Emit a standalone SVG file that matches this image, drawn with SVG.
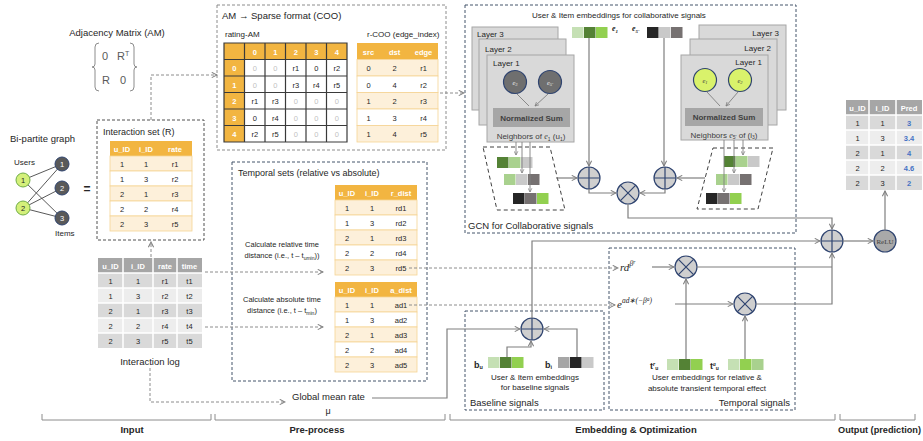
<svg xmlns="http://www.w3.org/2000/svg" width="923" height="441" viewBox="0 0 923 441">
<defs>
<style>
text{font-family:'Liberation Sans',Arial,sans-serif;fill:#262626}
.f10{font-size:9.5px}
.f9{font-size:9px}
.f8{font-size:8px}
.f7{font-size:7.5px}
.b{font-weight:bold}
.c{text-anchor:middle}
.r{text-anchor:end}
.w{fill:#fff}
.lg{fill:#bfbfbf}
.bl{fill:#4472c4;font-weight:bold}
.m{font-family:'Liberation Serif','Times New Roman',serif;font-style:italic}
.gbox{fill:none;stroke:#8c8c8c;stroke-width:1;stroke-dasharray:3,2}
.kbox{fill:none;stroke:#505050;stroke-width:1;stroke-dasharray:3,2}
.nbox{fill:none;stroke:#44546a;stroke-width:1;stroke-dasharray:3,2}
.dash{fill:none;stroke:#8c8c8c;stroke-width:1;stroke-dasharray:3,2}
.sol{fill:none;stroke:#7f7f7f;stroke-width:1.2}
.thin{fill:none;stroke:#7f7f7f;stroke-width:0.9}
.oh{fill:#f2b541}
.ob{fill:#fdf0da;stroke:#f6d495;stroke-width:.8}
.ow{fill:#fff;stroke:#f6d495;stroke-width:.8}
.gh{fill:#a6a6a6}
.g1{fill:#d9d9d9}
.g2{fill:#ededed}
.wl{stroke:#fff;stroke-width:1.5}
.layer{fill:#d9d9d9;stroke:#a6a6a6;stroke-width:1}
.ns{fill:#a6a6a6}
.op{fill:#cfcfcf;stroke:#2f4470;stroke-width:1.2}
.opl{stroke:#2f4470;stroke-width:1.2;fill:none}
.para{fill:none;stroke:#404040;stroke-width:1;stroke-dasharray:4,3}
.dg{fill:#548235}.lgr{fill:#a9d18e}.vlg{fill:#c5e0b4}.gr{fill:#92d050}.lgy{fill:#c9c9c9}.gy{fill:#767171}.bk{fill:#262626}.my{fill:#a6a6a6}
.amg{stroke:#3a3a3a;stroke-width:1.2;fill:none}
</style>
<marker id="a" viewBox="0 0 8 8" refX="7" refY="4" markerWidth="7" markerHeight="7" orient="auto" markerUnits="userSpaceOnUse"><path d="M1,1 L7,4 L1,7" fill="none" stroke="#7f7f7f" stroke-width="1.2"/></marker>
<marker id="s" viewBox="0 0 8 8" refX="7" refY="4" markerWidth="5" markerHeight="5" orient="auto" markerUnits="userSpaceOnUse"><path d="M1,1 L7,4 L1,7" fill="none" stroke="#7f7f7f" stroke-width="1.2"/></marker>
<g id="plus"><circle r="11" class="op"/><path d="M-11,0H11M0,-11V11" class="opl"/></g>
<g id="mul"><circle r="11" class="op"/><path d="M-7.8,-7.8L7.8,7.8M-7.8,7.8L7.8,-7.8" class="opl"/></g>
</defs>

<!-- Adjacency matrix -->
<g id="adjacency-matrix">
<text class="f10 c" x="117" y="35.5">Adjacency Matrix (AM)</text>
<path d="M99,43 Q95,43 95,47 L95,64 Q95,67 92,67 Q95,67 95,70 L95,87 Q95,91 99,91 M130,43 Q134,43 134,47 L134,64 Q134,67 137,67 Q134,67 134,70 L134,87 Q134,91 130,91" fill="none" stroke="#8c8c8c" stroke-width="1"/>
<text x="102" y="60" style="font-size:11px;fill:#595959">0</text>
<text x="117" y="60" style="font-size:11px;fill:#595959">R<tspan dy="-4" style="font-size:7px">T</tspan></text>
<text x="102" y="84" style="font-size:11px;fill:#595959">R</text>
<text x="120" y="84" style="font-size:11px;fill:#595959">0</text>
</g>

<!-- Bipartite graph -->
<g id="bipartite-graph">
<text class="f10" x="10" y="142">Bi-partite graph</text>
<text class="f8" x="14" y="165">Users</text>
<text class="f8" x="55" y="236">Items</text>
<path d="M23,180L62,164M23,180L62,218M23,208L62,164M23,208L62,188M23,208L62,218" stroke="#595959" stroke-width="1"/>
<circle cx="23" cy="180" r="7" fill="#d4f07a" stroke="#70ad47"/>
<circle cx="23" cy="208" r="7" fill="#d4f07a" stroke="#70ad47"/>
<text class="f7 c" x="23" y="182.8">1</text>
<text class="f7 c" x="23" y="210.8">2</text>
<circle cx="62" cy="164" r="7" fill="#595959" stroke="#2f4470"/>
<circle cx="62" cy="188" r="7" fill="#595959" stroke="#2f4470"/>
<circle cx="62" cy="218" r="7" fill="#595959" stroke="#2f4470"/>
<text class="f7 c w" x="62" y="166.8">1</text>
<text class="f7 c w" x="62" y="190.8">2</text>
<text class="f7 c w" x="62" y="220.8">3</text>
<text class="c b" x="87" y="193" style="font-size:12px">=</text>
</g>

<!-- Interaction set -->
<g id="interaction-set">
<rect x="97" y="120" width="107" height="120" class="kbox"/>
<text class="f9" x="103" y="134.5">Interaction set (R)</text>
<rect x="110" y="141" width="82" height="15" class="oh"/>
<rect x="110" y="156" width="82" height="15" class="ob"/>
<rect x="110" y="171" width="82" height="15" class="ow"/>
<rect x="110" y="186" width="82" height="15" class="ob"/>
<rect x="110" y="201" width="82" height="15" class="ow"/>
<rect x="110" y="216" width="82" height="15" class="ob"/>
<g class="f7 c">
<text class="w b" x="122" y="151.5">u_ID</text><text class="w b" x="146" y="151.5">i_ID</text><text class="w b" x="175" y="151.5">rate</text>
<text x="122" y="166.5">1</text><text x="146" y="166.5">1</text><text x="175" y="166.5">r1</text>
<text x="122" y="181.5">1</text><text x="146" y="181.5">3</text><text x="175" y="181.5">r2</text>
<text x="122" y="196.5">2</text><text x="146" y="196.5">1</text><text x="175" y="196.5">r3</text>
<text x="122" y="211.5">2</text><text x="146" y="211.5">2</text><text x="175" y="211.5">r4</text>
<text x="122" y="226.5">2</text><text x="146" y="226.5">3</text><text x="175" y="226.5">r5</text>
</g>
</g>

<!-- Interaction log -->
<g id="interaction-log">
<rect x="98" y="258" width="104" height="15" class="gh"/>
<rect x="98" y="273" width="104" height="15" class="g1"/>
<rect x="98" y="288" width="104" height="15" class="g2"/>
<rect x="98" y="303" width="104" height="15" class="g1"/>
<rect x="98" y="318" width="104" height="15" class="g2"/>
<rect x="98" y="333" width="104" height="15" class="g1"/>
<path d="M123,258V348M153,258V348M177,258V348M98,273H202M98,288H202M98,303H202M98,318H202M98,333H202" class="wl"/>
<g class="f7 c">
<text class="w b" x="110.5" y="268.5">u_ID</text><text class="w b" x="138" y="268.5">i_ID</text><text class="w b" x="165" y="268.5">rate</text><text class="w b" x="189.5" y="268.5">time</text>
<text x="110.5" y="283.5">1</text><text x="138" y="283.5">1</text><text x="165" y="283.5">r1</text><text x="189.5" y="283.5">t1</text>
<text x="110.5" y="298.5">1</text><text x="138" y="298.5">3</text><text x="165" y="298.5">r2</text><text x="189.5" y="298.5">t2</text>
<text x="110.5" y="313.5">2</text><text x="138" y="313.5">1</text><text x="165" y="313.5">r3</text><text x="189.5" y="313.5">t3</text>
<text x="110.5" y="328.5">2</text><text x="138" y="328.5">2</text><text x="165" y="328.5">r4</text><text x="189.5" y="328.5">t4</text>
<text x="110.5" y="343.5">2</text><text x="138" y="343.5">3</text><text x="165" y="343.5">r5</text><text x="189.5" y="343.5">t5</text>
</g>
<text class="f10 c" x="150" y="365">Interaction log</text>
</g>

<!-- AM to sparse -->
<g id="am-sparse">
<rect x="217" y="5" width="229" height="145" class="gbox"/>
<text class="f10" x="222" y="18.5">AM → Sparse format (COO)</text>
<text class="f8" x="225" y="37">rating-AM</text>
<text class="f8" x="367" y="37">r-COO (edge_index)</text>
<rect x="224" y="43" width="123" height="16.5" class="oh"/>
<rect x="224" y="43" width="20.5" height="99" class="oh"/>
<rect x="244.5" y="59.5" width="102.5" height="82.5" fill="#fff"/>
<path d="M224,43H347V142H224ZM224,59.5H347M224,76H347M224,92.5H347M224,109H347M224,125.5H347M244.5,43V142M265,43V142M285.5,43V142M306,43V142M326.5,43V142" class="amg"/>
<g class="f7 c">
<text class="w b" x="254.75" y="54.5">0</text><text class="w b" x="275.25" y="54.5">1</text><text class="w b" x="295.75" y="54.5">2</text><text class="w b" x="316.25" y="54.5">3</text><text class="w b" x="336.75" y="54.5">4</text>
<text class="w b" x="234.25" y="71">0</text><text class="w b" x="234.25" y="87.5">1</text><text class="w b" x="234.25" y="104">2</text><text class="w b" x="234.25" y="120.5">3</text><text class="w b" x="234.25" y="137">4</text>
<text class="lg" x="254.75" y="71">0</text><text class="lg" x="275.25" y="71">0</text><text x="295.75" y="71">r1</text><text x="316.25" y="71">0</text><text x="336.75" y="71">r2</text>
<text class="lg" x="254.75" y="87.5">0</text><text class="lg" x="275.25" y="87.5">0</text><text x="295.75" y="87.5">r3</text><text x="316.25" y="87.5">r4</text><text x="336.75" y="87.5">r5</text>
<text x="254.75" y="104">r1</text><text x="275.25" y="104">r3</text><text class="lg" x="295.75" y="104">0</text><text class="lg" x="316.25" y="104">0</text><text class="lg" x="336.75" y="104">0</text>
<text x="254.75" y="120.5">0</text><text x="275.25" y="120.5">r4</text><text class="lg" x="295.75" y="120.5">0</text><text class="lg" x="316.25" y="120.5">0</text><text class="lg" x="336.75" y="120.5">0</text>
<text x="254.75" y="137">r2</text><text x="275.25" y="137">r5</text><text class="lg" x="295.75" y="137">0</text><text class="lg" x="316.25" y="137">0</text><text class="lg" x="336.75" y="137">0</text>
</g>
<rect x="357" y="43" width="81" height="16.5" class="oh"/>
<rect x="357" y="59.5" width="81" height="16.5" class="ob"/>
<rect x="357" y="76" width="81" height="16.5" class="ow"/>
<rect x="357" y="92.5" width="81" height="16.5" class="ob"/>
<rect x="357" y="109" width="81" height="16.5" class="ow"/>
<rect x="357" y="125.5" width="81" height="16.5" class="ob"/>
<g class="f7 c">
<text class="w b" x="368.5" y="54.5">src</text><text class="w b" x="394.5" y="54.5">dst</text><text class="w b" x="423.5" y="54.5">edge</text>
<text x="368.5" y="71">0</text><text x="394.5" y="71">2</text><text x="423.5" y="71">r1</text>
<text x="368.5" y="87.5">0</text><text x="394.5" y="87.5">4</text><text x="423.5" y="87.5">r2</text>
<text x="368.5" y="104">1</text><text x="394.5" y="104">2</text><text x="423.5" y="104">r3</text>
<text x="368.5" y="120.5">1</text><text x="394.5" y="120.5">3</text><text x="423.5" y="120.5">r4</text>
<text x="368.5" y="137">1</text><text x="394.5" y="137">4</text><text x="423.5" y="137">r5</text>
</g>
</g>

<!-- Temporal sets -->
<g id="temporal-sets">
<rect x="232" y="162" width="195" height="219" class="nbox"/>
<text class="f9" x="238" y="175.5">Temporal sets (relative vs absolute)</text>
<text class="f7 c" x="282" y="247">Calculate relative time</text>
<text class="f7 c" x="282" y="258">distance (i.e., t – t<tspan dy="1.5" style="font-size:5px">umin</tspan><tspan dy="-1.5">))</tspan></text>
<text class="f7 c" x="282" y="302">Calculate absolute time</text>
<text class="f7 c" x="282" y="313">distance (i.e., t – t<tspan dy="1.5" style="font-size:5px">min</tspan><tspan dy="-1.5">)</tspan></text>
<rect x="335" y="185" width="82" height="15" class="oh"/>
<rect x="335" y="200" width="82" height="15" class="ob"/>
<rect x="335" y="215" width="82" height="15" class="ow"/>
<rect x="335" y="230" width="82" height="15" class="ob"/>
<rect x="335" y="245" width="82" height="15" class="ow"/>
<rect x="335" y="260" width="82" height="15" class="ob"/>
<g class="f7 c">
<text class="w b" x="347" y="195.5">u_ID</text><text class="w b" x="372" y="195.5">i_ID</text><text class="w b" x="401" y="195.5">r_dist</text>
<text x="347" y="210.5">1</text><text x="372" y="210.5">1</text><text x="401" y="210.5">rd1</text>
<text x="347" y="225.5">1</text><text x="372" y="225.5">3</text><text x="401" y="225.5">rd2</text>
<text x="347" y="240.5">2</text><text x="372" y="240.5">1</text><text x="401" y="240.5">rd3</text>
<text x="347" y="255.5">2</text><text x="372" y="255.5">2</text><text x="401" y="255.5">rd4</text>
<text x="347" y="270.5">2</text><text x="372" y="270.5">3</text><text x="401" y="270.5">rd5</text>
</g>
<rect x="335" y="282" width="82" height="15" class="oh"/>
<rect x="335" y="297" width="82" height="15" class="ob"/>
<rect x="335" y="312" width="82" height="15" class="ow"/>
<rect x="335" y="327" width="82" height="15" class="ob"/>
<rect x="335" y="342" width="82" height="15" class="ow"/>
<rect x="335" y="357" width="82" height="15" class="ob"/>
<g class="f7 c">
<text class="w b" x="347" y="292.5">u_ID</text><text class="w b" x="372" y="292.5">i_ID</text><text class="w b" x="401" y="292.5">a_dist</text>
<text x="347" y="307.5">1</text><text x="372" y="307.5">1</text><text x="401" y="307.5">ad1</text>
<text x="347" y="322.5">1</text><text x="372" y="322.5">3</text><text x="401" y="322.5">ad2</text>
<text x="347" y="337.5">2</text><text x="372" y="337.5">1</text><text x="401" y="337.5">ad3</text>
<text x="347" y="352.5">2</text><text x="372" y="352.5">2</text><text x="401" y="352.5">ad4</text>
<text x="347" y="367.5">2</text><text x="372" y="367.5">3</text><text x="401" y="367.5">ad5</text>
</g>
</g>

<!-- Global mean rate -->
<g id="global-mean">
<text class="f10" x="292" y="400">Global mean rate</text>
<text class="f9 c" x="328" y="414">μ</text>
</g>

<!-- GCN -->
<g id="gcn">
<rect x="465" y="5" width="331" height="228" class="nbox"/>
<text class="f8" x="532" y="18">User &amp; Item embeddings for collaborative signals</text>
<text class="f10" x="468" y="228.5">GCN for Collaborative signals</text>
<text class="m b" x="612" y="31" style="font-size:8px">e<tspan dy="1.5" style="font-size:5px">1</tspan></text>
<text class="m b" x="632" y="31" style="font-size:8px">e<tspan dy="1.5" style="font-size:5px">5'</tspan></text>
<rect x="572" y="27" width="11.5" height="11" class="vlg"/><rect x="584" y="27" width="11.5" height="11" class="dg"/><rect x="596" y="27" width="11.5" height="11" class="gr"/>
<rect x="647" y="27" width="11.5" height="11" class="bk"/><rect x="659" y="27" width="11.5" height="11" class="lgy"/><rect x="671" y="27" width="11.5" height="11" class="gy"/>
</g>

<g id="gcn-user-layers">
<rect x="472" y="27" width="86" height="83" class="layer"/>
<rect x="479" y="39" width="87" height="86" class="layer"/>
<rect x="487" y="55" width="87" height="87" class="layer"/>
<text class="f8" x="477" y="37">Layer 3</text>
<text class="f8" x="485" y="52">Layer 2</text>
<text class="f8" x="493" y="66">Layer 1</text>
<circle cx="515" cy="82" r="11.5" fill="#6f6f6f" stroke="#2f4470" stroke-width="1.2"/>
<circle cx="550" cy="82" r="11.5" fill="#6f6f6f" stroke="#2f4470" stroke-width="1.2"/>
<text class="m" x="515" y="84.5" text-anchor="middle" style="font-size:6.5px;fill:#eee">e<tspan dy="1" style="font-size:4.5px">3</tspan></text>
<text class="m" x="550" y="84.5" text-anchor="middle" style="font-size:6.5px;fill:#eee">e<tspan dy="1" style="font-size:4.5px">5'</tspan></text>
<path d="M517,94L529,106M548,94L535,106" class="thin" marker-end="url(#s)"/>
<rect x="493" y="108" width="77" height="19" class="ns"/>
<text class="f8 b c" x="531.5" y="120.5" style="fill:#404040">Normalized Sum</text>
<text class="f8 c" x="531" y="139" style="fill:#404040">Neighbors of <tspan class="m">e</tspan><tspan dy="1.5" style="font-size:5px">1</tspan><tspan dy="-1.5"> (u</tspan><tspan dy="1.5" style="font-size:5px">1</tspan><tspan dy="-1.5">)</tspan></text>
</g>

<g id="gcn-user-neighbors">
<polygon points="483,147 550,147 565,210 497,210" class="para"/>
<rect x="497" y="157" width="11.5" height="11" class="dg"/><rect x="509" y="157" width="11.5" height="11" class="lgr"/><rect x="521" y="157" width="11.5" height="11" class="lgy"/>
<rect x="504" y="174" width="11.5" height="11" class="lgr"/><rect x="516" y="174" width="11.5" height="11" class="lgy"/><rect x="528" y="174" width="11.5" height="11" class="gy"/>
<rect x="513" y="193" width="11.5" height="11" class="bk"/><rect x="525" y="193" width="11.5" height="11" class="gy"/><rect x="537" y="193" width="11.5" height="11" class="gr"/>
</g>

<g id="gcn-item-layers">
<rect x="699" y="25" width="87" height="85" class="layer"/>
<rect x="690" y="39" width="87" height="86" class="layer"/>
<rect x="681" y="55" width="87" height="85" class="layer"/>
<text class="f8 r" x="779" y="36">Layer 3</text>
<text class="f8 r" x="771" y="51">Layer 2</text>
<text class="f8 r" x="762" y="65">Layer 1</text>
<circle cx="705" cy="80" r="11.5" fill="#d9f26b" stroke="#2f4470" stroke-width="1.2"/>
<circle cx="740" cy="80" r="11.5" fill="#d9f26b" stroke="#2f4470" stroke-width="1.2"/>
<text class="m" x="705" y="82.5" text-anchor="middle" style="font-size:6.5px;fill:#404040">e<tspan dy="1" style="font-size:4.5px">1</tspan></text>
<text class="m" x="740" y="82.5" text-anchor="middle" style="font-size:6.5px;fill:#404040">e<tspan dy="1" style="font-size:4.5px">2</tspan></text>
<path d="M707,92L720,106M738,92L726,106" class="thin" marker-end="url(#s)"/>
<rect x="685" y="108" width="78" height="18" class="ns"/>
<text class="f8 b c" x="724" y="120" style="fill:#404040">Normalized Sum</text>
<text class="f8 c" x="724" y="137.5" style="fill:#404040">Neighbors <tspan class="m">e</tspan><tspan dy="1.5" style="font-size:5px">5'</tspan><tspan dy="-1.5"> of (i</tspan><tspan dy="1.5" style="font-size:5px">3</tspan><tspan dy="-1.5">)</tspan></text>
</g>

<g id="gcn-item-neighbors">
<polygon points="713,148 773,148 758,209 697,209" class="para"/>
<rect x="724" y="156" width="11.5" height="11" class="dg"/><rect x="736" y="156" width="11.5" height="11" class="lgr"/><rect x="748" y="156" width="11.5" height="11" class="lgy"/>
<rect x="716" y="174" width="11.5" height="11" class="lgr"/><rect x="728" y="174" width="11.5" height="11" class="lgy"/><rect x="740" y="174" width="11.5" height="11" class="gy"/>
<rect x="706" y="193" width="11.5" height="11" class="bk"/><rect x="718" y="193" width="11.5" height="11" class="gy"/><rect x="730" y="193" width="11.5" height="11" class="gr"/>
</g>

<g id="plus-user"><use href="#plus" x="589" y="178"/></g>
<g id="plus-item"><use href="#plus" x="665" y="178"/></g>
<g id="mul-gcn"><use href="#mul" x="628" y="193"/></g>

<!-- Baseline -->
<g id="baseline">
<rect x="465" y="311" width="139" height="99" class="nbox"/>
<text class="f10" x="470" y="405.5">Baseline signals</text>
<text class="b" x="474" y="367.5" style="font-size:9px">b<tspan dy="1.5" style="font-size:5.5px">u</tspan></text>
<rect x="488" y="357" width="11.5" height="11" class="vlg"/><rect x="500" y="357" width="11.5" height="11" class="dg"/><rect x="512" y="357" width="11.5" height="11" class="gr"/>
<text class="b" x="545" y="367.5" style="font-size:9px">b<tspan dy="1.5" style="font-size:5.5px">i</tspan></text>
<rect x="558" y="357" width="11.5" height="11" class="my"/><rect x="570" y="357" width="11.5" height="11" class="bk"/><rect x="582" y="357" width="11.5" height="11" class="lgy"/>
<text class="f8 c" x="535" y="380">User &amp; Item embeddings</text>
<text class="f8 c" x="535" y="390">for baseline signals</text>
</g>
<g id="plus-baseline"><use href="#plus" x="532" y="329"/></g>

<!-- Temporal signals -->
<g id="temporal-signals">
<rect x="609" y="248" width="186" height="162" class="nbox"/>
<text class="f10 r" x="790" y="405.5">Temporal signals</text>
<text class="m" x="620" y="271" style="font-size:11px">rd<tspan dy="-5" style="font-size:7.5px">β</tspan><tspan dy="-2" style="font-size:5.5px">r</tspan></text>
<text class="m" x="617" y="308" style="font-size:11px">e<tspan dy="-5" style="font-size:7.5px">ad∗(−β</tspan><tspan dy="-2" style="font-size:5.5px">a</tspan><tspan dy="2" style="font-size:7.5px">)</tspan></text>
<text class="b" x="650" y="368.5" style="font-size:9px">t<tspan dy="-3" class="m" style="font-size:5.5px">r</tspan><tspan dy="4.5" style="font-size:5px">u</tspan></text>
<rect x="667" y="359" width="11.5" height="11" class="vlg"/><rect x="679" y="359" width="11.5" height="11" class="dg"/><rect x="691" y="359" width="11.5" height="11" class="gr"/>
<text class="b" x="710" y="368.5" style="font-size:9px">t<tspan dy="-3" class="m" style="font-size:5.5px">a</tspan><tspan dy="4.5" style="font-size:5px">u</tspan></text>
<rect x="728" y="359" width="11.5" height="11" class="vlg"/><rect x="740" y="359" width="11.5" height="11" class="gr"/><rect x="752" y="359" width="11.5" height="11" class="lgr"/>
<text class="f8 c" x="707" y="380">User embeddings for relative &amp;</text>
<text class="f8 c" x="707" y="391">absolute transient temporal effect</text>
</g>
<g id="mul-relative"><use href="#mul" x="686" y="267"/></g>
<g id="mul-absolute"><use href="#mul" x="745" y="304"/></g>

<!-- Output -->
<g id="plus-final"><use href="#plus" x="832" y="241"/></g>
<g id="relu">
<circle cx="885" cy="241" r="11" fill="#a9a9a9" stroke="#2f4470" stroke-width="1.2"/>
<text x="885" y="243.5" text-anchor="middle" style="font-family:'Liberation Serif',serif;font-size:7px;fill:#404040">ReLU</text>
</g>
<g id="prediction">
<rect x="846" y="100" width="76" height="15" class="gh"/>
<rect x="846" y="115" width="76" height="15" class="g1"/>
<rect x="846" y="130" width="76" height="15" class="g2"/>
<rect x="846" y="145" width="76" height="15" class="g1"/>
<rect x="846" y="160" width="76" height="15" class="g2"/>
<rect x="846" y="175" width="76" height="15" class="g1"/>
<path d="M869,100V190M896,100V190M846,115H922M846,130H922M846,145H922M846,160H922M846,175H922" class="wl"/>
<g class="f7 c">
<text class="w b" x="857.5" y="110.5">u_ID</text><text class="w b" x="882.5" y="110.5">i_ID</text><text class="w b" x="909" y="110.5">Pred</text>
<text x="857.5" y="125.5">1</text><text x="882.5" y="125.5">1</text><text class="bl" x="909" y="125.5">3</text>
<text x="857.5" y="140.5">1</text><text x="882.5" y="140.5">3</text><text class="bl" x="909" y="140.5">3.4</text>
<text x="857.5" y="155.5">2</text><text x="882.5" y="155.5">1</text><text class="bl" x="909" y="155.5">4</text>
<text x="857.5" y="170.5">2</text><text x="882.5" y="170.5">2</text><text class="bl" x="909" y="170.5">4.6</text>
<text x="857.5" y="185.5">2</text><text x="882.5" y="185.5">3</text><text class="bl" x="909" y="185.5">2</text>
</g>
</g>

<!-- Connectors -->
<g id="connectors">
<path d="M151,120V75H217" class="dash" marker-end="url(#a)"/>
<path d="M151,257V242" class="dash" marker-end="url(#a)"/>
<path d="M205,272H323" class="dash" marker-end="url(#a)"/>
<path d="M205,327H323" class="dash" marker-end="url(#a)"/>
<path d="M150,368V402H285" class="dash" marker-end="url(#a)"/>
<path d="M440,93H464" class="dash" marker-end="url(#a)"/>
<path d="M409,268H618" class="dash" marker-end="url(#a)"/>
<path d="M409,305H615" class="dash" marker-end="url(#a)"/>
<path d="M372,398H447V329H520" class="sol" marker-end="url(#a)"/>
<path d="M516,142V155" class="thin" marker-end="url(#s)"/>
<path d="M522,142V173" class="thin" marker-end="url(#s)"/>
<path d="M530,142V192" class="thin" marker-end="url(#s)"/>
<path d="M743,140V155" class="thin" marker-end="url(#s)"/>
<path d="M734,140V173" class="thin" marker-end="url(#s)"/>
<path d="M724,140V192" class="thin" marker-end="url(#s)"/>
<path d="M589,38V166" class="sol" marker-end="url(#a)"/>
<path d="M664,38V166" class="sol" marker-end="url(#a)"/>
<path d="M556,178H577" class="sol" marker-end="url(#a)"/>
<path d="M705,178H677" class="sol" marker-end="url(#a)"/>
<path d="M589,189V193H616" class="sol" marker-end="url(#a)"/>
<path d="M665,189V193H640" class="sol" marker-end="url(#a)"/>
<path d="M628,204V218H832V229" class="sol" marker-end="url(#a)"/>
<path d="M532,318V241H820" class="sol" marker-end="url(#a)"/>
<path d="M507,357V347H531V341" class="sol" marker-end="url(#a)"/>
<path d="M577,357V329H544" class="sol" marker-end="url(#a)"/>
<path d="M652,267H674" class="sol" marker-end="url(#a)"/>
<path d="M675,304H733" class="sol" marker-end="url(#a)"/>
<path d="M686,359V279" class="sol" marker-end="url(#a)"/>
<path d="M745,359V316" class="sol" marker-end="url(#a)"/>
<path d="M697,267H832" class="sol"/>
<path d="M756,304H832V253" class="sol" marker-end="url(#a)"/>
<path d="M843,241H873" class="sol" marker-end="url(#a)"/>
<path d="M885,230V191" class="sol" marker-end="url(#a)"/>
</g>

<!-- Stage brackets -->
<g id="stages">
<path d="M42,414V420H211V414M215,414V420H445V414M450,414V420H835V414M840,414V420H915V414" fill="none" stroke="#8c8c8c" stroke-width="1"/>
<text class="f10 b c" x="132" y="433">Input</text>
<text class="f10 b c" x="317" y="433">Pre-process</text>
<text class="f10 b c" x="636" y="433">Embedding &amp; Optimization</text>
<text class="b" x="838" y="433" style="font-size:9px" textLength="83" lengthAdjust="spacingAndGlyphs">Output (prediction)</text>
</g>
</svg>
